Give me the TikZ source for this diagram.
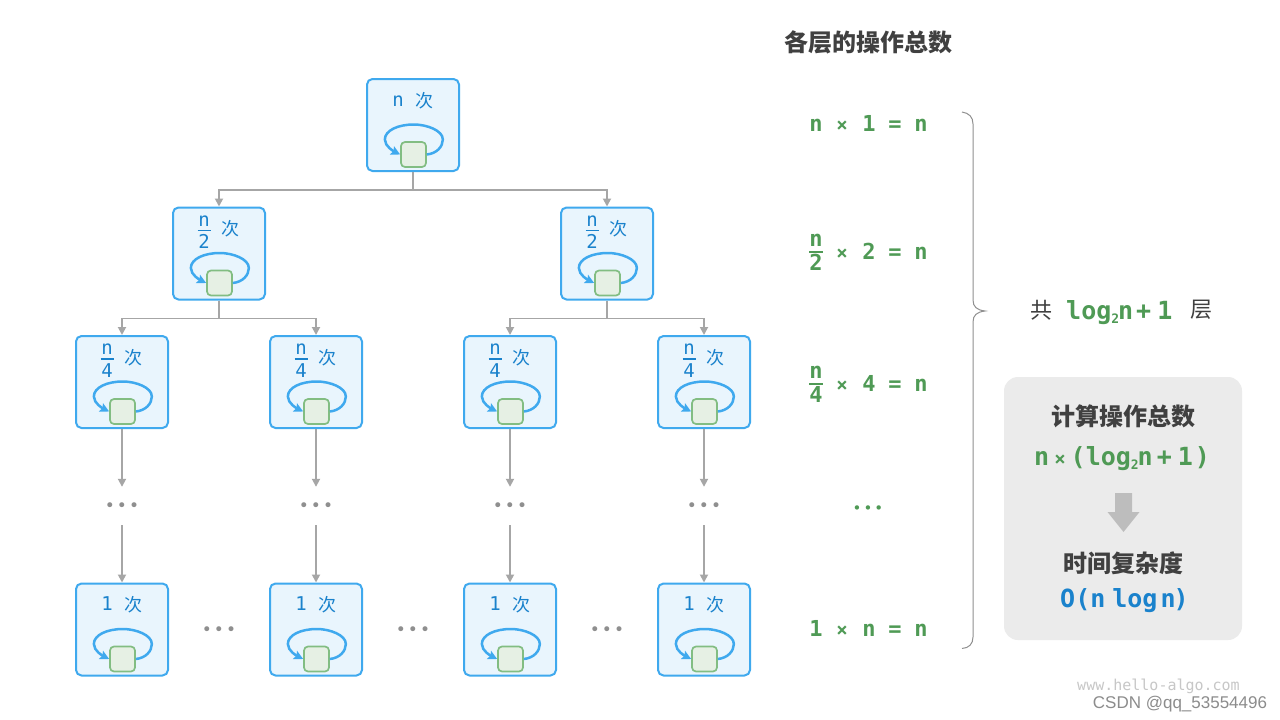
\documentclass[tikz,border=0pt]{standalone}
\usepackage{fontspec}
\setmainfont{DejaVu Sans Mono}
\newfontfamily\cjk{Noto Sans CJK SC}
\newfontfamily\wmark{DejaVu Sans Mono}
\newfontfamily\csdn{Liberation Sans}
\newfontfamily\dotf{DejaVu Sans}
\usetikzlibrary{arrows.meta,positioning}
\definecolor{bluefill}{HTML}{E9F5FD}
\definecolor{blueline}{HTML}{3FA9EE}
\definecolor{bluetext}{HTML}{1A82CC}
\definecolor{greenfill}{HTML}{E6F0E4}
\definecolor{greenline}{HTML}{82BD82}
\definecolor{greentext}{HTML}{4F9A55}
\definecolor{edgegray}{HTML}{A6A6A6}
\definecolor{darktext}{HTML}{404040}
\definecolor{panelgray}{HTML}{EBEBEB}
\definecolor{blockgray}{HTML}{BDBDBD}
\definecolor{dotgray}{HTML}{8F8F8F}
\tikzset{
  opbox/.style={draw=blueline,fill=bluefill,line width=2pt,rounded corners=5.5pt,minimum width=92pt,minimum height=92pt,inner sep=0pt},
  opsq/.style={draw=greenline,fill=greenfill,line width=1.7pt,rounded corners=4pt,minimum size=25pt,inner sep=0pt},
  oploop/.style={draw=blueline,line width=2.5pt,-{Stealth[length=9pt,width=9pt,inset=1.5pt]}},
  link/.style={draw=edgegray,line width=1.8pt,-{Stealth[length=8pt,width=8pt,inset=0pt]}},
  bxt/.style={text=bluetext,font=\fontsize{19}{19}\selectfont,inner sep=0pt,anchor=base},
  bcj/.style={text=bluetext,font=\fontsize{18}{18}\selectfont\cjk,inner sep=0pt,anchor=base},
  eqt/.style={text=greentext,font=\fontsize{22}{22}\selectfont\bfseries,inner sep=0pt,anchor=base},
  lgt/.style={text=greentext,font=\fontsize{25}{25}\selectfont\bfseries,inner sep=0pt,anchor=base west},
  hd/.style={text=darktext,font=\fontsize{24}{24}\selectfont\cjk\bfseries,inner sep=0pt,anchor=center},
  dotn/.style={text=dotgray,font=\fontsize{17}{17}\selectfont\dotf,inner sep=0pt,minimum height=40pt},
}
\newcommand{\ddd}{•\hspace{2pt}•\hspace{2pt}•}
\newcommand{\lsub}{\raisebox{-4pt}{\fontsize{13}{13}\selectfont 2}}
\newcommand{\opnode}[5]{%
  \node[opbox] (#1) at (#2,#3) {};
  \node[opsq] (#1s) at (#2+0.5,#3+29.5) {};
  \draw[oploop] (#1s.east) .. controls +(10,-1) and +(0,7) .. ++(16,-15) .. controls +(0,-9) and +(13,0) .. ++(-29,-15) .. controls +(-16,0) and +(0,-9) .. ++(-29,15) .. controls +(0,7) and +(-6,-3) .. (#1s.west);
  \node[bcj] (#1c) at (#2+11,#3-18) {次};
  \if\relax\detokenize{#5}\relax
    \node[bxt] (#1n) at (#2-15,#3-19) {#4};
  \else
    \node[bxt] (#1n) at (#2-15,#3-27.5) {#4};
    \node[bxt] (#1d) at (#2-15,#3-5) {#5};
    \draw[bluetext,line width=1.4pt] (#2-21.5,#3-23) -- (#2-8.5,#3-23);
  \fi
}
\newcommand{\eqrow}[4]{%
  \node[eqt,font=\fontsize{19}{19}\selectfont\bfseries] (#1m) at (842,#2) {×};
  \node[eqt] (#1b) at (869,#2) {#4};
  \node[eqt] (#1q) at (895,#2) {=};
  \node[eqt] (#1r) at (921,#2) {n};
  \node[eqt] (#1a) at (816,#2) {#3};
}
\newcommand{\eqfrac}[3]{%
  \node[eqt] (#1u) at (816,#2-6) {n};
  \node[eqt] (#1v) at (816,#2+18) {#3};
  \draw[greentext,line width=1.8pt] (809,#2) -- (823,#2);
}
\begin{document}
\begin{tikzpicture}[x=1pt,y=-1pt]
\useasboundingbox (0,0) rectangle (1280,720);
\fill[white] (0,0) rectangle (1280,720);
\opnode{r}{413}{125}{n}{}
\opnode{a}{219}{253.5}{n}{2}
\opnode{b}{607}{253.5}{n}{2}
\opnode{c}{122}{382}{n}{4}
\opnode{d}{316}{382}{n}{4}
\opnode{e}{510}{382}{n}{4}
\opnode{f}{704}{382}{n}{4}
\opnode{g}{122}{629.5}{1}{}
\opnode{h}{316}{629.5}{1}{}
\opnode{i}{510}{629.5}{1}{}
\opnode{j}{704}{629.5}{1}{}
\draw[link] (r.south) -- ++(0,18) -| (a.north);
\draw[link] (r.south) -- ++(0,18) -| (b.north);
\draw[link] (a.south) -- ++(0,18) -| (c.north);
\draw[link] (a.south) -- ++(0,18) -| (d.north);
\draw[link] (b.south) -- ++(0,18) -| (e.north);
\draw[link] (b.south) -- ++(0,18) -| (f.north);
\foreach \u/\v/\x in {c/g/122,d/h/316,e/i/510,f/j/704}{
  \node[dotn] (dt\u) at (\x,507) {\ddd};
  \draw[link] (\u.south) -- (dt\u.north);
  \draw[link,shorten <=-2pt] (dt\u.south) -- (\v.north);
}
\node[dotn] (hz1) at (219,631) {\ddd};
\node[dotn] (hz2) at (413,631) {\ddd};
\node[dotn] (hz3) at (607,631) {\ddd};
\node[dotn,text=greentext,font=\fontsize{15}{15}\selectfont\dotf] (tbd) at (868,510) {\ddd};
\node[hd] (title) at (868,42) {各层的操作总数};
\eqrow{p}{131}{n}{1}
\eqrow{s}{259}{}{2}
\eqfrac{s}{252}{2}
\eqrow{t}{391}{}{4}
\eqfrac{t}{384}{4}
\eqrow{w}{636}{1}{n}
\draw[dotgray,line width=1pt] (962,112) .. controls (969,113) and (973,117) .. (973,124) -- (973,300) .. controls (973,307) and (977,310) .. (985,311) .. controls (977,312) and (973,315) .. (973,322) -- (973,637) .. controls (973,644) and (969,648) .. (962,648.5);
\node[text=darktext,font=\fontsize{22}{22}\selectfont\cjk,inner sep=0pt] (gong) at (1041,310) {共};
\node[text=darktext,font=\fontsize{22}{22}\selectfont\cjk,inner sep=0pt] (ceng) at (1201,310) {层};
\node[lgt] (lay) at (1066,319) {log\lsub\hspace{-1pt}n\hspace{3pt}+\hspace{6pt}1};
\fill[panelgray,rounded corners=14pt] (1004,377) rectangle (1242,640);
\node[hd] (calc) at (1123,416) {计算操作总数};
\node[lgt] (form) at (1034,465) {n\hspace{5pt}{\fontsize{19}{19}\selectfont ×}\hspace{5pt}(log\lsub\hspace{-1pt}n\hspace{4pt}+\hspace{6pt}1\hspace{2pt})};
\fill[blockgray] (1115,493) -- (1132,493) -- (1132,512) -- (1139.5,512) -- (1123.5,532) -- (1107.5,512) -- (1115,512) -- cycle;
\node[hd] (tc) at (1123,563) {时间复杂度};
\node[lgt,text=bluetext] (big) at (1060,607) {O(n\hspace{7pt}log\hspace{3pt}n\hspace{-2pt})};
\node[text=black!22,font=\fontsize{15}{15}\selectfont\wmark,inner sep=0pt,anchor=base] (wm) at (1158.5,690) {www.hello-algo.com};
\node[text=black!45,font=\fontsize{17}{17}\selectfont\csdn,inner sep=0pt,anchor=base] (cs) at (1180,708) {CSDN @qq\_53554496};
\end{tikzpicture}
\end{document}
